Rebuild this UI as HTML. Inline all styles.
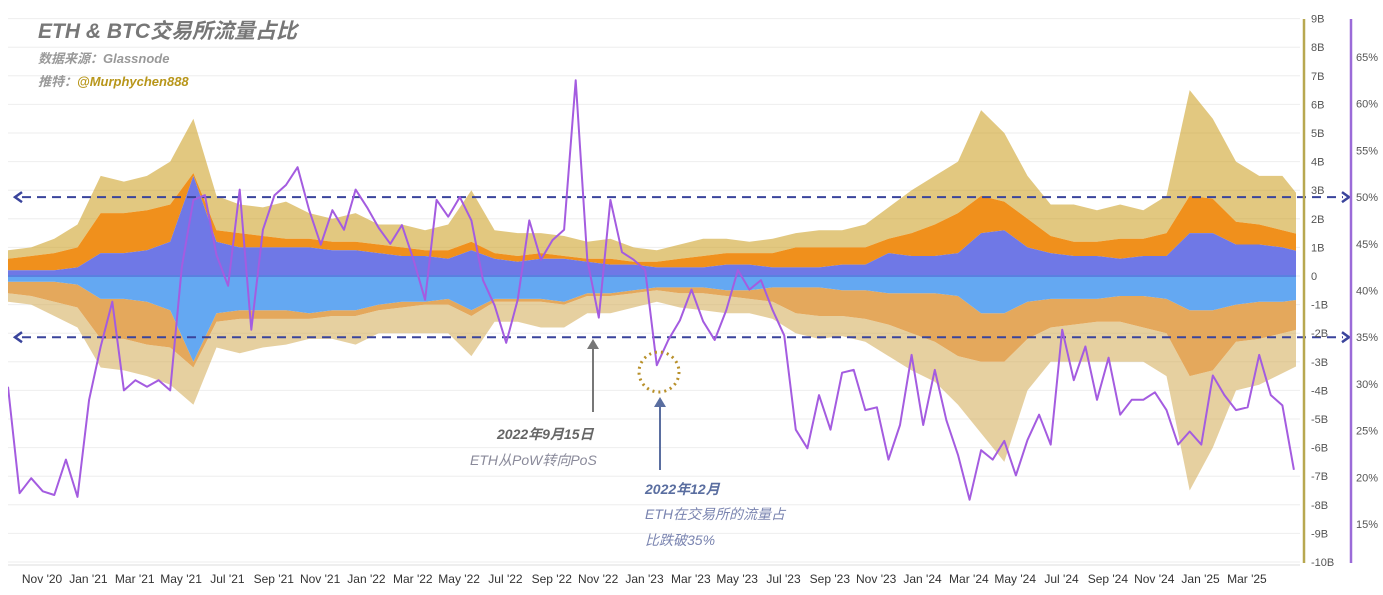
<!DOCTYPE html>
<html><head><meta charset="utf-8">
<style>
html,body{margin:0;padding:0;background:#fff;}
svg{display:block;font-family:"Liberation Sans","Noto Sans CJK SC",sans-serif;}
</style></head>
<body>
<svg id="chart" width="1383" height="595" viewBox="0 0 1383 595">
<g id="grid"></g>
<g id="areas"></g>
<g id="refs"></g>
<g id="line"></g>
<g id="axes"></g>
<g id="annot">
  <line x1="593" y1="412" x2="593" y2="345" stroke="#777" stroke-width="2"/>
  <path d="M587,349 L593,339 L599,349 Z" fill="#777"/>
  <text x="497" y="439" font-size="14" font-weight="bold" font-style="italic" fill="#666">2022年9月15日</text>
  <text x="470" y="465" font-size="14" font-style="italic" fill="#8a8a9a">ETH从PoW转向PoS</text>
  <circle cx="659" cy="372" r="20" fill="none" stroke="#b8902a" stroke-width="3" stroke-dasharray="2 4"/>
  <line x1="660" y1="470" x2="660" y2="403" stroke="#5a6ea0" stroke-width="2"/>
  <path d="M654,407 L660,397 L666,407 Z" fill="#5a6ea0"/>
  <text x="645" y="494" font-size="14" font-weight="bold" font-style="italic" fill="#5a6ea0">2022年12月</text>
  <text x="645" y="519" font-size="14" font-style="italic" fill="#7a84b0">ETH在交易所的流量占</text>
  <text x="645" y="545" font-size="14" font-style="italic" fill="#7a84b0">比跌破35%</text>
</g>
<g>
  <text x="38" y="38" font-size="21" font-weight="bold" font-style="italic" fill="#777">ETH &amp; BTC交易所流量占比</text>
  <text x="38" y="63" font-size="13" font-weight="bold" font-style="italic" fill="#999">数据来源：Glassnode</text>
  <text x="38" y="86" font-size="13" font-weight="bold" font-style="italic" fill="#999">推特：<tspan fill="#b8961a">@Murphychen888</tspan></text>
</g>
</svg>
<script>
const monthLabels = ["Nov '20","Jan '21","Mar '21","May '21","Jul '21","Sep '21","Nov '21","Jan '22","Mar '22","May '22","Jul '22","Sep '22","Nov '22","Jan '23","Mar '23","May '23","Jul '23","Sep '23","Nov '23","Jan '24","Mar '24","May '24","Jul '24","Sep '24","Nov '24","Jan '25","Mar '25"];
const flowTicks = [9,8,7,6,5,4,3,2,1,0,-1,-2,-3,-4,-5,-6,-7,-8,-9,-10];
const pctTicks = [65,60,55,50,45,40,35,30,25,20,15];
const refLevels = [50,35];
// monthly samples starting mid-Sep 2020 (billions)
const posBlue = [0.2,0.2,0.2,0.3,0.8,0.8,0.9,1.2,3.5,1.2,1.0,1.0,1.0,1.0,0.9,0.9,0.8,0.7,0.7,0.6,0.9,0.6,0.5,0.6,0.6,0.5,0.4,0.4,0.3,0.3,0.3,0.4,0.4,0.3,0.3,0.3,0.4,0.4,0.8,0.7,0.7,0.8,1.5,1.6,1.0,0.8,0.7,0.7,0.6,0.7,0.7,1.5,1.5,1.1,1.1,1.0,0.8];
const posOrange = [0.6,0.7,0.8,1.0,2.2,2.2,2.3,2.5,3.6,1.6,1.5,1.4,1.3,1.3,1.2,1.2,1.1,1.0,0.9,0.9,1.2,0.8,0.7,0.8,0.7,0.6,0.6,0.5,0.5,0.6,0.7,0.8,0.8,0.8,1.0,1.0,1.0,1.0,1.3,1.5,1.8,2.2,2.8,2.6,2.0,1.4,1.2,1.2,1.3,1.3,1.5,2.8,2.7,1.9,1.8,1.6,1.4];
const posPeak = [0.9,1.0,1.3,1.8,3.5,3.3,3.5,4.0,5.5,2.8,2.5,2.4,2.6,2.2,2.0,2.2,1.8,1.8,1.6,1.8,3.0,1.6,1.5,1.5,1.4,1.2,1.3,1.0,0.9,1.1,1.3,1.3,1.2,1.3,1.5,1.6,1.6,1.8,2.4,3.0,3.5,4.0,5.8,5.0,3.5,2.5,2.5,2.3,2.5,2.3,2.8,6.5,5.5,4.0,3.5,3.5,2.5];
const negBlue = [-0.2,-0.2,-0.2,-0.3,-0.8,-0.8,-0.9,-1.2,-3.0,-1.3,-1.2,-1.2,-1.2,-1.3,-1.2,-1.2,-1.0,-0.9,-0.9,-0.8,-1.2,-0.8,-0.8,-0.8,-0.9,-0.6,-0.6,-0.5,-0.4,-0.4,-0.4,-0.5,-0.5,-0.4,-0.4,-0.4,-0.5,-0.5,-0.6,-0.6,-0.6,-0.7,-1.3,-1.3,-0.9,-0.8,-0.8,-0.8,-0.7,-0.7,-0.8,-1.2,-1.2,-1.0,-0.9,-0.9,-0.8];
const negTan = [-0.6,-0.7,-0.9,-1.1,-2.2,-2.2,-2.4,-2.5,-3.2,-1.6,-1.5,-1.5,-1.5,-1.5,-1.4,-1.4,-1.2,-1.1,-1.0,-1.0,-1.4,-0.9,-0.9,-0.9,-1.0,-0.7,-0.7,-0.6,-0.5,-0.6,-0.6,-0.7,-0.8,-0.9,-1.3,-1.4,-1.4,-1.5,-1.7,-2.0,-2.3,-2.8,-3.0,-3.0,-2.2,-1.8,-1.7,-1.6,-1.6,-1.8,-2.0,-3.5,-3.3,-2.3,-2.2,-2.0,-1.8];
const negPeak = [-0.9,-1.0,-1.4,-1.8,-3.2,-3.3,-3.5,-3.8,-4.5,-2.5,-2.7,-2.5,-2.4,-2.2,-2.2,-2.4,-2.0,-2.0,-2.0,-2.0,-2.8,-1.6,-1.6,-1.8,-1.8,-1.3,-1.3,-1.1,-0.9,-1.1,-1.2,-1.3,-1.3,-1.5,-2.0,-2.2,-2.1,-2.3,-2.8,-3.3,-3.7,-4.5,-5.5,-6.5,-4.0,-3.0,-3.0,-3.0,-3.0,-3.0,-3.5,-7.5,-6.0,-4.0,-3.8,-3.4,-3.0];
// half-monthly ETH share of exchange flow (%)
const ethShare = [29.7,18.3,19.9,18.5,18.1,21.9,17.9,28.3,34.0,38.8,29.3,30.4,29.7,30.4,29.3,42.5,49.7,50.2,43.8,40.5,50.8,35.8,46.5,50.2,51.3,53.2,48.6,44.9,48.6,46.5,50.8,48.9,46.7,45.0,47.0,43.3,39.0,49.7,47.9,50.0,47.5,41.1,38.4,34.4,39.0,47.5,43.3,45.4,46.5,62.5,43.3,37.1,49.7,44.1,43.3,42.2,32.0,34.7,36.8,40.1,36.7,34.7,37.9,42.2,40.1,41.1,37.9,35.2,25.1,23.1,28.8,25.1,31.2,31.5,27.2,27.5,21.9,25.6,33.1,25.6,31.5,26.1,22.4,17.6,22.9,21.9,23.9,20.2,24.0,26.7,23.5,35.8,30.4,34.0,28.3,32.8,26.7,28.3,28.3,29.1,27.2,23.5,24.9,23.5,30.9,28.8,27.2,27.5,33.1,28.8,27.7,20.8];

const NS='http://www.w3.org/2000/svg';
const X0=8, X1=1296, MONTH_PX=23.17, NOV20=1.47;
const xMonth = m => X0 + m*MONTH_PX;
const yB = v => 276 - v*28.6;
const yP = p => 57 + (65-p)*9.34;
function mk(tag, attrs, parent){const e=document.createElementNS(NS,tag);for(const k in attrs)e.setAttribute(k,attrs[k]);parent.appendChild(e);return e;}
const grid=document.getElementById('grid'), areas=document.getElementById('areas'), refs=document.getElementById('refs'), lineG=document.getElementById('line'), axes=document.getElementById('axes');

const defs=mk('defs',{},document.getElementById('chart'));
const cp=mk('clipPath',{id:'plotclip'},defs);
mk('rect',{x:X0,y:10,width:X1-X0,height:560},cp);
areas.setAttribute('clip-path','url(#plotclip)');
lineG.setAttribute('clip-path','url(#plotclip)');

flowTicks.forEach(t=>{
  const g=mk('line',{x1:X0,x2:1300,y1:yB(t),y2:yB(t),stroke:'#eeeeee','stroke-width':1},grid);
  
  
  const lb=mk('text',{x:1311,y:yB(t)+4,'font-size':11,fill:'#555'},axes);
  lb.textContent=t===0?'0':t+'B';
  
  
});
pctTicks.forEach(p=>{
  const lb=mk('text',{x:1356,y:yP(p)+4,'font-size':11,fill:'#555'},axes);
  lb.textContent=p+'%';
  
  
});
const ax1=mk('line',{x1:1304,x2:1304,y1:19,y2:563,stroke:'#b8a850','stroke-width':2.5},axes);


const ax2=mk('line',{x1:1351,x2:1351,y1:19,y2:563,stroke:'#9b6bd8','stroke-width':2.5},axes);


const base=mk('line',{x1:X0,x2:1300,y1:565,y2:565,stroke:'#ddd','stroke-width':1},axes);


monthLabels.forEach((l,i)=>{
  const lb=mk('text',{x:xMonth(NOV20+2*i),y:583,'font-size':12,fill:'#333','text-anchor':'middle'},axes);
  lb.textContent=l;
  
  
});

function areaPath(top,bot){
  let d='';
  top.forEach((v,i)=>{d+=(i?'L':'M')+xMonth(i).toFixed(1)+','+yB(v).toFixed(1);});
  for(let i=bot.length-1;i>=0;i--) d+='L'+xMonth(i).toFixed(1)+','+yB(bot[i]).toFixed(1);
  return d+'Z';
}
const zeros=posBlue.map(()=>0);
const layers=[
  [posPeak,posOrange,'#cfa42c','pos-peak-area',0.6],
  [posOrange,posBlue,'#f0901c','pos-orange-area',1],
  [posBlue,zeros,'#6f78e6','pos-blue-area',1],
  [negPeak,negTan,'#d6b060','neg-peak-area',0.6],
  [negTan,negBlue,'#e4a85c','neg-tan-area',1],
  [negBlue,zeros,'#64a8f2','neg-blue-area',1]
];
layers.forEach(L=>{
  const p=mk('path',{d:areaPath(L[0],L[1]),fill:L[2],'fill-opacity':L[4]},areas);
  
  
});
const zl=mk('line',{x1:X0,x2:X1,y1:276,y2:276,stroke:'#5a80e0','stroke-width':2},areas);



refLevels.forEach(p=>{
  const y=yP(p);
  const l=mk('line',{x1:22,x2:1343,y1:y,y2:y,stroke:'#3a449c','stroke-width':2,'stroke-dasharray':'9 6'},refs);
  
  
  const a1=mk('path',{d:`M22,${y-5} L15,${y} L22,${y+5}`,fill:'none',stroke:'#3a449c','stroke-width':2.5},refs);
  
  
  const a2=mk('path',{d:`M1342,${y-5} L1349,${y} L1342,${y+5}`,fill:'none',stroke:'#3a449c','stroke-width':2.5},refs);
  
  
});

let d='';
ethShare.forEach((v,i)=>{d+=(i?'L':'M')+xMonth(i*0.5).toFixed(1)+','+yP(v).toFixed(1);});
const pl=mk('path',{d:d,fill:'none',stroke:'#a45ce0','stroke-width':2,'stroke-linejoin':'round'},lineG);


</script>
</body></html>
